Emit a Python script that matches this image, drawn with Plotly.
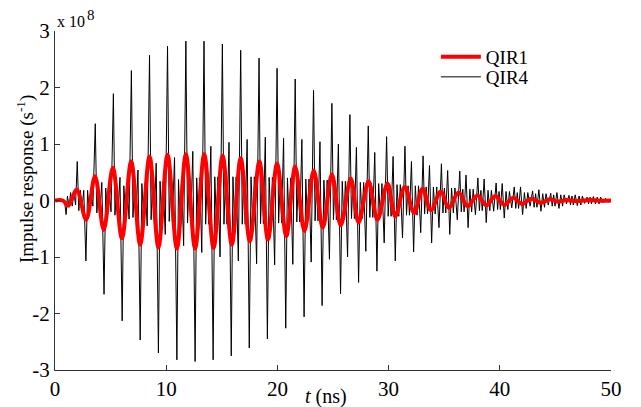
import plotly.graph_objects as go

# values in units of 1e8 s^-1, time in ns

# QIR1: peaks and troughs of the red trace
qir1_t = [0, 0.7, 1.2, 1.95, 2.8, 3.6, 4.38, 5.2, 6.02, 6.85, 7.66, 8.5, 9.3, 10.12, 10.96,
          11.77, 12.6, 13.42, 14.26, 15.07, 15.9, 16.7, 17.52, 18.38, 19.15, 19.97, 20.8,
          21.6, 22.43, 23.27, 24.08, 24.9, 25.7, 26.6, 27.3, 28.2, 29.0, 29.9, 30.6, 31.45,
          32.3, 33.05, 33.8, 34.7, 35.4, 36.3, 37.1, 38.0, 38.8, 39.6, 40.4, 41.2, 42.0,
          42.85, 43.7, 44.5, 45.2, 46.0, 47.0, 48.0, 49.0, 50.0]
qir1_v = [0, 0, -0.09, 0.19, -0.34, 0.43, -0.52, 0.58, -0.67, 0.69, -0.78, 0.78, -0.83, 0.81, -0.85,
          0.82, -0.85, 0.82, -0.84, 0.79, -0.78, 0.75, -0.72, 0.69, -0.69, 0.65, -0.63,
          0.60, -0.54, 0.53, -0.48, 0.46, -0.44, 0.39, -0.39, 0.34, -0.34, 0.30, -0.28, 0.24,
          -0.22, 0.21, -0.17, 0.16, -0.13, 0.14, -0.10, 0.09, -0.085, 0.08, -0.08, 0.05, -0.06,
          0.03, -0.04, 0.02, -0.02, 0.01, -0.01, 0.01, -0.005, 0.0]

# QIR4: the black spiky trace
pre_t = [0, 0.85, 1.0, 1.12, 1.27, 1.4, 1.55, 1.7, 1.85]
pre_v = [0, 0, -0.25, 0.08, -0.12, 0.14, -0.1, 0.15, -0.08]

t_pos = [2.0, 3.62, 5.25, 6.87, 8.5, 10.12, 11.77, 13.4, 15.05, 16.7, 18.35, 19.97, 21.6, 23.25,
         24.9, 26.52, 28.17, 29.82, 31.47, 33.1, 34.75, 36.4, 38.03, 39.67, 41.3, 42.95, 44.58,
         46.22, 47.85, 49.5]
big_pos = [0.69, 1.36, 1.89, 2.30, 2.57, 2.73, 2.82, 2.82, 2.77, 2.66, 2.52, 2.34, 2.15, 1.95,
           1.72, 1.52, 1.32, 1.13, 0.96, 0.79, 0.65, 0.52, 0.40, 0.31, 0.24, 0.17, 0.13,
           0.09, 0.06, 0.04]
t_neg = [2.78, 4.41, 6.04, 7.66, 9.3, 10.96, 12.6, 14.22, 15.85, 17.47, 19.1, 20.75, 22.4, 24.02,
         25.68, 27.3, 28.95, 30.6, 32.25, 33.87, 35.5, 37.15, 38.78, 40.4, 42.05, 43.7, 45.32,
         46.97, 48.6]
big_neg = [-1.07, -1.66, -2.13, -2.47, -2.70, -2.82, -2.85, -2.82, -2.75, -2.61, -2.45, -2.26,
           -2.06, -1.86, -1.65, -1.45, -1.25, -1.07, -0.91, -0.75, -0.60, -0.48, -0.39, -0.31,
           -0.25, -0.19, -0.14, -0.09, -0.06]
mid_pos = [0.18, 0.32, 0.41, 0.54, 0.66, 0.76, 0.87, 0.96, 1.03, 1.08, 1.12, 1.10, 1.08, 1.04,
           1.0, 0.94, 0.85, 0.78, 0.69, 0.62, 0.53, 0.45, 0.38, 0.30, 0.24, 0.19, 0.14, 0.10, 0.07]
mid_neg = [-0.10, -0.20, -0.33, -0.45, -0.60, -0.80, -0.92, -1.0, -1.07, -1.12, -1.14, -1.13,
           -1.09, -1.04, -1.0, -0.9, -0.75, -0.66, -0.57, -0.48, -0.34, -0.25, -0.19, -0.13,
           -0.10, -0.08, -0.06, -0.05, -0.04]
ripple = [0.18, 0.22, 0.26, 0.3, 0.34, 0.37, 0.4, 0.42, 0.42, 0.42, 0.41, 0.4, 0.38, 0.36, 0.34,
          0.32, 0.3, 0.28, 0.26, 0.24, 0.22, 0.2, 0.18, 0.16, 0.14, 0.12, 0.1, 0.08, 0.06, 0.04]
end_t = [49.75, 50.0]
end_v = [-0.03, 0.0]

# where the small wiggles sit inside each half cycle
sub = [0.18, 0.36, 0.52, 0.75]

bx = list(pre_t)
by = list(pre_v)
for k in range(len(t_pos)):
    if k > 0:
        t0, t1 = t_neg[k - 1], t_pos[k]
        r = ripple[k - 1]
        for f, v in zip(sub, [r, -r, r, mid_neg[k - 1]]):
            bx.append(t0 + f * (t1 - t0))
            by.append(v)
    bx.append(t_pos[k])
    by.append(big_pos[k])
    if k < len(t_neg):
        t0, t1 = t_pos[k], t_neg[k]
        r = ripple[k]
        for f, v in zip(sub, [-r, r, -r, mid_pos[k]]):
            bx.append(t0 + f * (t1 - t0))
            by.append(v)
        bx.append(t_neg[k])
        by.append(big_neg[k])
bx += end_t
by += end_v

yticks = [-3, -2, -1, 0, 1, 2, 3]
xticks = [0, 10, 20, 30, 40, 50]

fnt = "Liberation Serif"

fig = go.Figure()
fig.add_trace(go.Scatter(x=bx, y=by, mode='lines', name='QIR4', legend='legend2',
                         line=dict(color='black', width=1)))
fig.add_trace(go.Scatter(x=qir1_t, y=qir1_v, mode='lines', name='QIR1', legend='legend',
                         line=dict(color='#ff0000', width=4, shape='spline', smoothing=1.0)))

# plot box is 556 x 339 px; positions below are measured from its bottom-left corner
leg = dict(xanchor='left', yanchor='middle', bgcolor='rgba(0,0,0,0)', itemwidth=40,
           font=dict(family=fnt, size=19, color='black'))
fig.update_layout(
    width=641, height=407,
    margin=dict(l=47, r=38, t=23, b=45, autoexpand=False),
    plot_bgcolor='white', paper_bgcolor='white',
    font=dict(family=fnt, size=21, color='black'),
    showlegend=True,
    legend=dict(x=0.685, y=(370 - 57) / 339, **leg),
    legend2=dict(x=0.685, y=(370 - 77) / 339, **leg),
)
fig.update_xaxes(range=[0, 50], tickvals=xticks, ticktext=[str(v) for v in xticks],
                 showline=True, linecolor='#333333', linewidth=1, ticks='inside', ticklen=5,
                 tickcolor='#333333', showgrid=False, zeroline=False, mirror=False,
                 automargin=False, tickfont=dict(family=fnt, size=21))
fig.update_yaxes(range=[-3, 3], tickvals=yticks, ticktext=[str(v) for v in yticks],
                 showline=True, linecolor='#333333', linewidth=1, ticks='inside', ticklen=5,
                 tickcolor='#333333', showgrid=False, zeroline=False, mirror=False,
                 automargin=False, tickfont=dict(family=fnt, size=21))

# axis multiplier, drawn as "x 10" with a raised "8"
fig.add_annotation(text='x 10', xref='paper', yref='paper', x=0.0, y=(370 - 21) / 339,
                   xanchor='left', yanchor='middle', showarrow=False,
                   font=dict(family=fnt, size=16))
fig.add_annotation(text='8', xref='paper', yref='paper', x=(85 - 55) / 556, y=(370 - 15) / 339,
                   xanchor='left', yanchor='middle', showarrow=False,
                   font=dict(family=fnt, size=15))
fig.add_annotation(text='Impulse response (s<sup>-1</sup>)', xref='paper', yref='paper',
                   x=(25 - 55) / 556, y=(370 - 179) / 339, xanchor='center', yanchor='middle',
                   textangle=-90, showarrow=False, font=dict(family=fnt, size=19))
fig.add_annotation(text='<i>t</i> (ns)', xref='paper', yref='paper', x=(326 - 55) / 556,
                   y=(370 - 397) / 339, xanchor='center', yanchor='middle', showarrow=False,
                   font=dict(family=fnt, size=20))

fig.write_html("out.html")
